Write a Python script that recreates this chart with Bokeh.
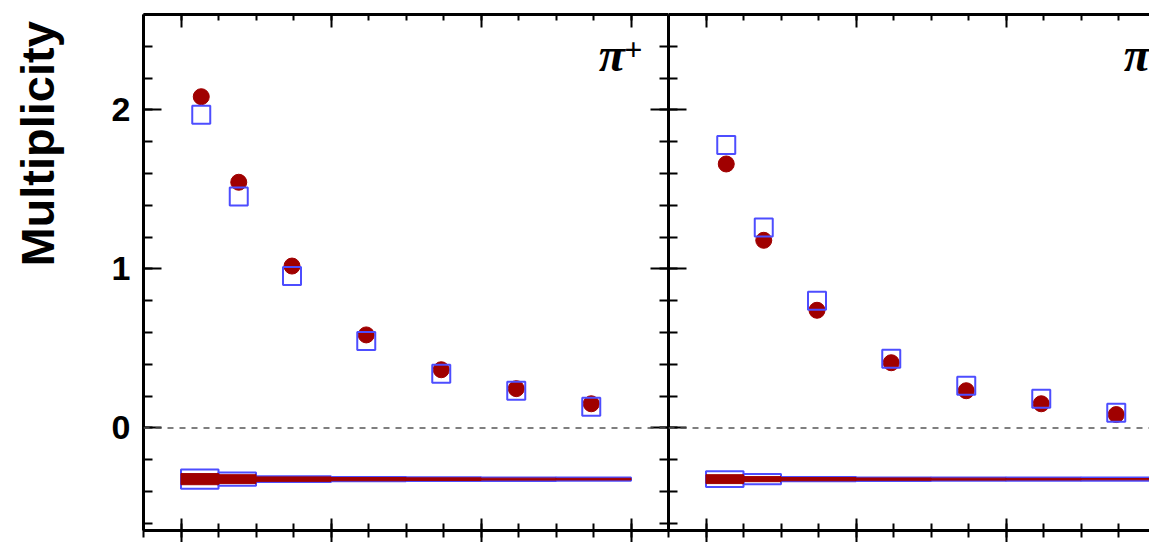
from math import pi

from bokeh.embed import file_html
from bokeh.layouts import row
from bokeh.models import FixedTicker, Label, LinearAxis, Range1d, Span
from bokeh.plotting import figure
from bokeh.resources import INLINE

# z binning and mean z per bin
Z_EDGES = [0.20, 0.25, 0.30, 0.40, 0.50, 0.60, 0.70, 0.80]
Z_MEAN = [0.227, 0.277, 0.348, 0.447, 0.547, 0.647, 0.747]

# pi+ multiplicities
PIP_RED = [2.083, 1.545, 1.018, 0.585, 0.366, 0.247, 0.152]
PIP_BLUE = [1.970, 1.456, 0.955, 0.547, 0.341, 0.234, 0.133]
# pi- multiplicities
PIM_RED = [1.660, 1.180, 0.740, 0.410, 0.234, 0.152, 0.084]
PIM_BLUE = [1.780, 1.260, 0.800, 0.435, 0.265, 0.184, 0.096]

# systematic uncertainties (half widths of the bands)
PIP_RED_SYS = [0.035, 0.028, 0.014, 0.010, 0.008, 0.006, 0.005]
PIP_BLUE_SYS = [0.060, 0.041, 0.018, 0.014, 0.012, 0.011, 0.010]
PIM_RED_SYS = [0.028, 0.016, 0.010, 0.007, 0.006, 0.005, 0.004]
PIM_BLUE_SYS = [0.050, 0.032, 0.013, 0.011, 0.010, 0.010, 0.010]

Y_MAJOR = [0, 1, 2]
Y_MINOR = [round(-0.6 + 0.2 * i, 2) for i in range(17)]
X_MAJOR = [0.2, 0.4, 0.6, 0.8]
X_MINOR = [round(0.15 + 0.05 * i, 2) for i in range(15)]

RED = "#a00000"
BLUE = "#4d4dff"
BAND_Y = -0.322
PX_PER_X = 750.0
H = 542
TITLE_W = 90


def axis(ticker, maj_in, maj_out, min_in, min_out, labels=False):
    ax = LinearAxis(
        ticker=ticker,
        axis_line_width=3, axis_line_color="black",
        major_tick_line_width=2, minor_tick_line_width=2,
        major_tick_line_color="black", minor_tick_line_color="black",
        major_tick_in=maj_in, major_tick_out=maj_out,
        minor_tick_in=min_in, minor_tick_out=min_out,
    )
    if labels:
        ax.major_label_text_font = "Liberation Sans"
        ax.major_label_text_font_style = "bold"
        ax.major_label_text_font_size = "34px"
        ax.major_label_text_color = "black"
        ax.major_label_standoff = 13
    else:
        ax.major_label_text_color = None
        ax.major_label_text_font_size = "0px"
        ax.major_label_standoff = 0
    return ax


def panel(width, border_left, red, blue, red_sys, blue_sys, title, first):
    frame_w = width - border_left
    p = figure(
        width=width, height=H,
        x_range=Range1d(0.15, 0.15 + frame_w / PX_PER_X),
        y_range=Range1d(-0.645, 2.6),
        output_backend="svg", toolbar_location=None,
        x_axis_location=None, y_axis_location=None,
        min_border_left=border_left, min_border_right=0,
        min_border_top=14, min_border_bottom=12,
        background_fill_color="white", border_fill_color="white",
    )
    p.outline_line_color = None
    p.grid.grid_line_color = None

    xt = FixedTicker(ticks=X_MAJOR, minor_ticks=X_MINOR)
    yt = FixedTicker(ticks=Y_MAJOR, minor_ticks=Y_MINOR)
    p.add_layout(axis(xt, 12, 12, 7, 7), "below")
    p.add_layout(axis(xt, 13, 0, 6, 0), "above")
    p.add_layout(axis(yt, 18, 0, 9, 0, labels=first), "left")
    if first:
        p.add_layout(axis(yt, 18, 0, 9, 0), "right")

    p.add_layout(Span(location=0, dimension="width", line_color="#555555",
                      line_width=1.5, line_dash="6 6"))

    # systematic bands
    p.quad(left=Z_EDGES[:-1], right=Z_EDGES[1:],
           bottom=[BAND_Y - e for e in blue_sys], top=[BAND_Y + e for e in blue_sys],
           fill_color=None, line_color=BLUE, line_width=2)
    p.quad(left=Z_EDGES[:-1], right=Z_EDGES[1:],
           bottom=[BAND_Y - e for e in red_sys], top=[BAND_Y + e for e in red_sys],
           fill_color=RED, line_color=RED, line_width=1)

    # multiplicities
    p.scatter(Z_MEAN, red, marker="circle", size=16, fill_color=RED, line_color=RED)
    p.scatter(Z_MEAN, blue, marker="square", size=18, fill_color=None,
              line_color=BLUE, line_width=2)

    p.add_layout(Label(x=0.757, y=2.18, text=title, text_align="left",
                       text_font="Liberation Serif", text_font_style="bold italic",
                       text_font_size="48px", text_color="black"))
    if first:
        p.add_layout(Label(x=0.791, y=2.315, text="+", text_align="left",
                           text_font="Liberation Serif", text_font_style="bold",
                           text_font_size="32px", text_color="black"))
    return p


# strip holding the y-axis title, aligned to the top of the panels
ytitle = figure(
    width=TITLE_W, height=H, x_range=Range1d(0, TITLE_W), y_range=Range1d(H, 0),
    output_backend="svg", toolbar_location=None,
    x_axis_location=None, y_axis_location=None,
    min_border_left=0, min_border_right=0, min_border_top=0, min_border_bottom=0,
    background_fill_color="white", border_fill_color="white",
)
ytitle.outline_line_color = None
ytitle.grid.grid_line_color = None
ytitle.add_layout(Label(x=37, y=7, angle=pi / 2, text="Multiplicity",
                        text_align="right", text_baseline="alphabetic",
                        text_font="Liberation Sans", text_font_style="bold",
                        text_font_size="47px", text_color="black"))

p1 = panel(668 - TITLE_W, 143 - TITLE_W, PIP_RED, PIP_BLUE, PIP_RED_SYS, PIP_BLUE_SYS, "π", True)
p2 = panel(481, 0, PIM_RED, PIM_BLUE, PIM_RED_SYS, PIM_BLUE_SYS, "π", False)

layout = row(ytitle, p1, p2)
open("out.html", "w").write(file_html(layout, INLINE))
